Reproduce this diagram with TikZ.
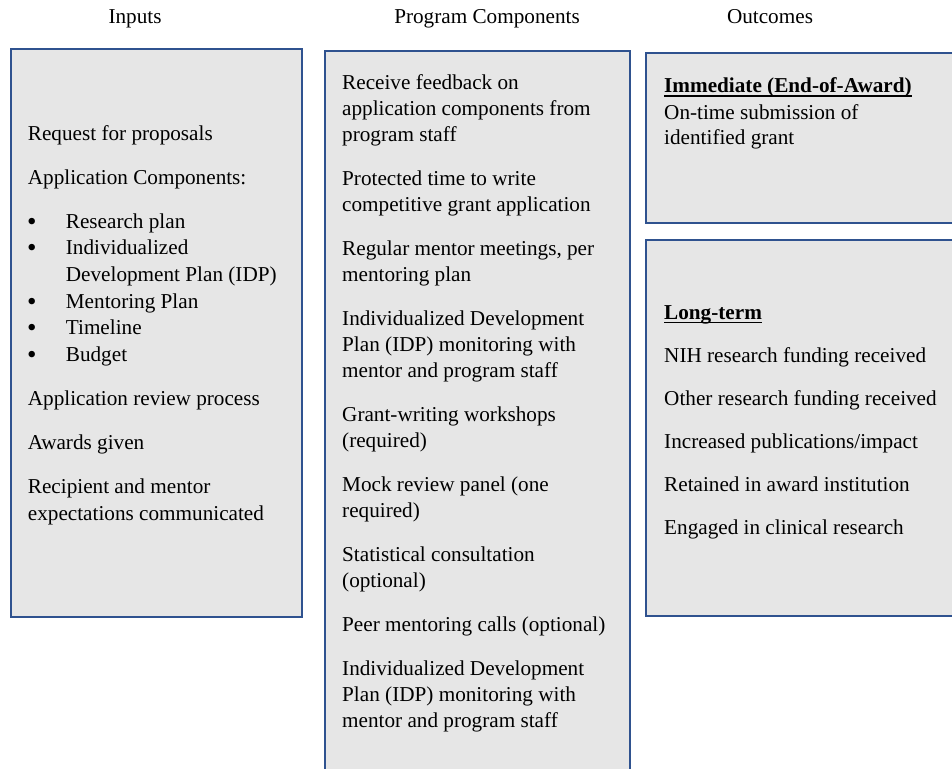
\documentclass[tikz,border=0pt]{standalone}
\usepackage{fontspec}
\setmainfont{Liberation Serif}
\definecolor{boxfill}{RGB}{230,230,230}
\definecolor{boxline}{RGB}{47,82,143}
\newcommand\ulbold[1]{\setbox0\hbox{\textbf{#1}}\rlap{\rule[-4pt]{\wd0}{1.3pt}}\box0}
\begin{document}
\begin{tikzpicture}[x=1pt,y=-1pt,
  txt/.style={anchor=base west,inner sep=0pt,font=\fontsize{21.2pt}{26.5pt}\selectfont},
  bul/.style={anchor=base west,inner sep=0pt,font=\fontsize{27pt}{27pt}\selectfont},
  hdr/.style={anchor=base,inner sep=0pt,font=\fontsize{21.2pt}{26.5pt}\selectfont},
  panel/.style={draw=boxline,fill=boxfill,line width=1.6pt}]
\useasboundingbox (0,0) rectangle (952,768);
\clip (0,0) rectangle (952,768);
% headers
\node[hdr] (hIn) at (135,24) {Inputs};
\node[hdr] (hPC) at (487,24) {Program Components};
\node[hdr] (hOut) at (770,24) {Outcomes};
% panels
\draw[panel] (11,49) rectangle (302,617);
\draw[panel] (325,51) rectangle (630,790);
\draw[panel] (646,53) rectangle (970,223);
\draw[panel] (646,240) rectangle (970,616);
% left column
\node[txt] (L1) at (27.7,140) {Request for proposals};
\node[txt] (L2) at (27.7,184) {Application Components:};
\node[bul] (B1) at (27,230) {•};
\node[txt] (L3) at (65.7,228) {Research plan};
\node[bul] (B2) at (27,256.7) {•};
\node[txt] (L4) at (65.7,254.7) {Individualized};
\node[txt] (L5) at (65.7,281.4) {Development Plan (IDP)};
\node[bul] (B3) at (27,310) {•};
\node[txt] (L6) at (65.7,308) {Mentoring Plan};
\node[bul] (B4) at (27,336.8) {•};
\node[txt] (L7) at (65.7,334.8) {Timeline};
\node[bul] (B5) at (27,363.5) {•};
\node[txt] (L8) at (65.7,361.5) {Budget};
\node[txt] (L9) at (27.7,405.5) {Application review process};
\node[txt] (L10) at (27.7,449.5) {Awards given};
\node[txt] (L11) at (27.7,493.5) {Recipient and mentor};
\node[txt] (L12) at (27.7,520) {expectations communicated};
% middle column
\foreach \y/\t [count=\i] in {89/Receive feedback on,115/application components from,141/program staff,
  185/Protected time to write,211/competitive grant application,
  255/{Regular mentor meetings, per},281/mentoring plan,
  325/Individualized Development,351/Plan (IDP) monitoring with,377/mentor and program staff,
  421/Grant-writing workshops,447/(required),
  491/Mock review panel (one,517/required),
  561/Statistical consultation,587/(optional),
  631/Peer mentoring calls (optional),
  675/Individualized Development,701/Plan (IDP) monitoring with,727/mentor and program staff}
  \node[txt] (M\i) at (342,\y) {\t};
% right column
\node[txt] (R1) at (664,92.5) {\ulbold{Immediate (End-of-Award)}};
\node[txt] (R2) at (664,119) {On-time submission of};
\node[txt] (R3) at (664,144) {identified grant};
\node[txt] (R4) at (664,319) {\ulbold{Long-term}};
\node[txt] (R5) at (664,362) {NIH research funding received};
\node[txt] (R6) at (664,405) {Other research funding received};
\node[txt] (R7) at (664,448) {Increased publications/impact};
\node[txt] (R8) at (664,491) {Retained in award institution};
\node[txt] (R9) at (664,534) {Engaged in clinical research};
\end{tikzpicture}
\end{document}
